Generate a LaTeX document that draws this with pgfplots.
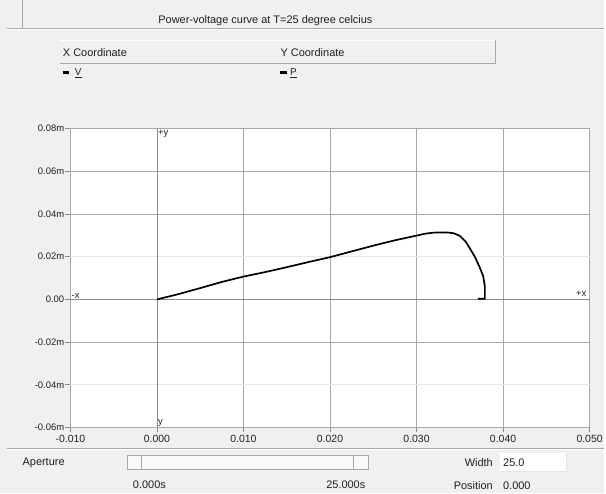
\documentclass[border=0pt]{standalone}
\usepackage{pgfplots}
\pgfplotsset{compat=1.18}
\usepackage{fontspec}
\setmainfont{Liberation Sans}
\definecolor{panel}{HTML}{F0F0F0}
\definecolor{gridc}{HTML}{A8A8A8}
\definecolor{gridl}{HTML}{E6E6E6}
\definecolor{axc}{HTML}{8A8A8A}
\definecolor{txt}{HTML}{202020}
\newcommand\ui{\fontsize{11}{13}\selectfont}

\begin{document}
\begin{tikzpicture}
\begin{scope}[x=1pt,y=-1pt,every node/.style={inner sep=0pt,text=txt}]
  \fill[panel] (0,0) rectangle (606,495);
  % title bar
  \draw[gridc] (22.5,0) -- (22.5,27.5);
  \draw[gridc] (7,28) -- (606,28);
  \draw[white] (7,29) -- (606,29);
  \node[anchor=base,font=\ui] at (266.5,23) {Power-voltage curve at T=25 degree celcius};
  % coordinate header
  \draw[white] (60,40.5) -- (497,40.5);
  \draw[gridc] (60,63.5) -- (497,63.5) -- (497,40);
  \node[anchor=base west,font=\ui] at (63,57) {X Coordinate};
  \node[anchor=base west,font=\ui] at (281.5,57) {Y Coordinate};
  \fill[black] (63,71) rectangle (69.5,74.5);
  \node[anchor=base west,font=\fontsize{10}{12}\selectfont] at (75,76) {\underline{V}};
  \fill[black] (281.5,71) rectangle (288,74.5);
  \node[anchor=base west,font=\fontsize{10}{12}\selectfont] at (291,76) {\underline{P}};
  % bottom panel
  \draw[gridc] (7,450) -- (606,450);
  \draw[white] (7,451) -- (606,451);
  \node[anchor=base west,font=\ui] at (22.5,467) {Aperture};
  \fill[white!60!panel] (128,457) rectangle (369.5,471);
  \draw[gridc] (128,471) -- (128,457) -- (369.5,457) -- (369.5,471) -- cycle;
  \draw[gridc] (141.7,457) -- (141.7,471);
  \draw[gridc] (355,457) -- (355,471);
  \node[anchor=base,font=\ui] at (150,490) {0.000s};
  \node[anchor=base east,font=\ui] at (367,490) {25.000s};
  \node[anchor=base east,font=\ui] at (495,468) {Width};
  \fill[white] (501.7,455) rectangle (568.3,473.3);
  \draw[gridl] (501.7,473.3) -- (568.3,473.3) -- (568.3,455);
  \node[anchor=base west,font=\ui] at (505,468) {25.0};
  \node[anchor=base east,font=\ui] at (495,491) {Position};
  \node[anchor=base west,font=\ui] at (505,491) {0.000};
\end{scope}

\begin{axis}[
    at={(70.7pt,-429pt)}, anchor=south west,
    scale only axis,
    width=521.3pt, height=300pt,
    xmin=-0.01, xmax=0.05,
    ymin=-0.06, ymax=0.08,
    scaled ticks=false,
    axis background/.style={fill=white},
    axis line style={gridc},
    xtick={-0.01,0,0.01,0.02,0.03,0.04,0.05},
    xticklabels={-0.010,0.000,0.010,0.020,0.030,0.040,0.050},
    ytick={-0.06,-0.02,0,0.04,0.06,0.08},
    yticklabels={-0.06m,-0.02m,0.00,0.04m,0.06m,0.08m},
    extra y ticks={-0.04,0.02},
    extra y tick labels={-0.04m,0.02m},
    extra y tick style={grid style={gridl,line width=0.8pt}},
    grid=major,
    grid style={gridc,line width=0.8pt},
    tick align=outside,
    xtick pos=bottom, ytick pos=left,
    major tick length=5pt,
    tick style={axc,line width=0.8pt},
    xticklabel style={font=\fontsize{10.5}{12}\selectfont,text=txt,yshift=1pt},
    yticklabel style={font=\fontsize{9.5}{11}\selectfont,text=txt,inner sep=1pt},
    clip=false,
  ]
  \draw[axc,line width=0.8pt] (axis cs:-0.01,0) -- (axis cs:0.05,0);
  \draw[axc,line width=0.8pt] (axis cs:0,-0.06) -- (axis cs:0,0.08);
  \addplot[black,line width=1.7pt,line join=round] coordinates {
    (0,0) (0.0025,0.0025) (0.005,0.0053) (0.0075,0.0082) (0.010,0.0107)
    (0.0125,0.0128) (0.015,0.0151) (0.0175,0.0175) (0.020,0.0198)
    (0.0225,0.0225) (0.025,0.0252) (0.0275,0.0277) (0.030,0.0299)
    (0.031,0.0308) (0.032,0.0313) (0.0335,0.0314) (0.0343,0.0310)
    (0.0350,0.0298) (0.0357,0.0270) (0.0363,0.0230) (0.0368,0.0195)
    (0.0373,0.0150) (0.0377,0.0110) (0.0379,0.0060) (0.0379,0.0003)
    (0.0371,0.0003)
  };
  \node[anchor=north west,font=\fontsize{9.5}{11}\selectfont,text=txt,inner sep=1pt] at (axis cs:0,0.08) {+y};
  \node[anchor=south west,font=\fontsize{9.5}{11}\selectfont,text=txt,inner sep=1pt] at (axis cs:-0.01,0) {-x};
  \node[anchor=south east,font=\fontsize{9.5}{11}\selectfont,text=txt,inner sep=3pt] at (axis cs:0.05,0) {+x};
  \node[anchor=south west,font=\fontsize{9.5}{11}\selectfont,text=txt,inner sep=1pt] at (axis cs:0,-0.06) {y};
\end{axis}
\end{tikzpicture}
\end{document}
